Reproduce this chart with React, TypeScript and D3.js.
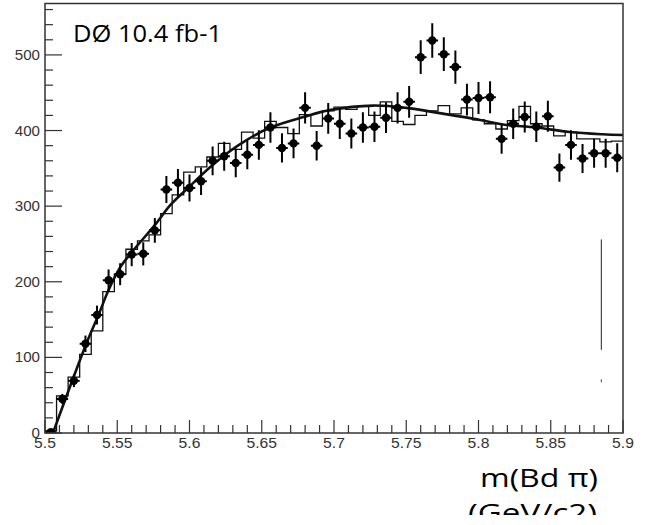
import React from "react";
import * as d3 from "d3";

// bins: 50 bins of 0.008 GeV from 5.5 to 5.9
const binLow = 5.5;
const binWidth = 0.008;
const dataCounts = [1, 45, 69, 118, 156, 202, 210, 236, 237, 268, 322, 331, 324, 333, 360, 366, 357, 368, 381, 404, 377, 383, 430, 380, 416, 409, 396, 404, 405, 417, 430, 438, 497, 519, 501, 484, 441, 443, 444, 389, 409, 418, 405, 419, 351, 381, 363, 370, 370, 364];
const mcCounts = [3, 49, 74, 104, 135, 187, 210, 243, 254, 262, 290, 315, 345, 352, 365, 383, 375, 398, 390, 412, 404, 396, 421, 406, 426, 431, 428, 432, 420, 438, 412, 408, 420, 426, 433, 422, 430, 414, 409, 402, 413, 432, 409, 406, 393, 398, 389, 389, 385, 386];

// fit curve
const fitMass = [5.5055, 5.519, 5.529, 5.537, 5.544, 5.552, 5.56, 5.576, 5.587, 5.6, 5.614, 5.626, 5.64, 5.656, 5.679, 5.697, 5.727, 5.75, 5.773, 5.801, 5.817, 5.84, 5.863, 5.886, 5.9];
const fitCounts = [0, 70, 120, 156, 189, 219, 239, 275, 302, 326, 351, 370, 388, 404, 418, 427, 433, 430, 423, 414, 408, 404, 398, 395, 394];

const xTicks = [5.5, 5.55, 5.6, 5.65, 5.7, 5.75, 5.8, 5.85, 5.9];
const yTicks = [0, 100, 200, 300, 400, 500];

// stray mark in the original scan
const strayMass = 5.885;
const strayRange = [110, 256];
const strayDot = [67, 71];

const W = 651;
const H = 525;
const left = 45, right = 623, top = 3.5, bottom = 433;

const App = () => {
  const x = d3.scaleLinear().domain([5.5, 5.9]).range([left, right]);
  const y = d3.scaleLinear().domain([0, 568]).range([bottom, top]);

  const points = dataCounts.map((v, i) => ({ m: binLow + binWidth * (i + 0.5), v }));

  const steps: [number, number][] = [[binLow, 0]];
  mcCounts.forEach((v, i) => {
    steps.push([binLow + binWidth * i, v]);
    steps.push([binLow + binWidth * (i + 1), v]);
  });
  const histPath = d3.line<[number, number]>()
    .x(d => x(d[0]))
    .y(d => y(d[1]))(steps);

  const fitPath = d3.line<number>()
    .x(d => x(d))
    .y((d, i) => y(fitCounts[i]))
    .curve(d3.curveCatmullRom)(fitMass);

  const minorX = d3.range(0, 41).map(i => 5.5 + i * 0.01);
  const minorY = d3.range(0, 29).map(i => i * 20);
  const half = (x(binLow + binWidth) - x(binLow)) / 2;
  const tickFont = "'Liberation Sans', Arial, sans-serif";
  const labelFont = "'Open Sans', 'Noto Sans', sans-serif";

  return (
    <svg width={W} height={H} style={{ position: "absolute", left: 0, top: 0, background: "#fff" }}>
      <defs>
        <clipPath id="plot">
          <rect x={left} y={top} width={right - left} height={bottom - top} />
        </clipPath>
        <clipPath id="bottomcut">
          <rect x={0} y={0} width={W} height={515} />
        </clipPath>
      </defs>

      <g clipPath="url(#plot)">
        <path d={histPath || ""} fill="none" stroke="#111" strokeWidth={1.3} />
        <path d={fitPath || ""} fill="none" stroke="#111" strokeWidth={2.6} />
        {points.map((p, i) => {
          const e = Math.sqrt(p.v);
          return (
            <g key={i}>
              <line x1={x(p.m)} x2={x(p.m)} y1={y(p.v + e)} y2={y(Math.max(0, p.v - e))} stroke="#000" strokeWidth={2} />
              <line x1={x(p.m) - half} x2={x(p.m) + half} y1={y(p.v)} y2={y(p.v)} stroke="#000" strokeWidth={2} />
              <circle cx={x(p.m)} cy={y(p.v)} r={4.2} fill="#000" />
            </g>
          );
        })}
      </g>

      {/* stray mark */}
      <line x1={x(strayMass)} x2={x(strayMass)} y1={y(strayRange[0])} y2={y(strayRange[1])} stroke="#222" strokeWidth={1} />
      <line x1={x(strayMass)} x2={x(strayMass)} y1={y(strayDot[0])} y2={y(strayDot[1])} stroke="#444" strokeWidth={1} />

      {/* frame */}
      <rect x={left} y={top} width={right - left} height={bottom - top} fill="none" stroke="#333" strokeWidth={1.5} />

      {/* y ticks */}
      {minorY.map(v => (
        <line key={"my" + v} x1={left} x2={left + (v % 100 === 0 ? 17 : 8)} y1={y(v)} y2={y(v)} stroke="#333" strokeWidth={1.2} />
      ))}
      {yTicks.map(v => (
        <g key={"ly" + v} transform={`translate(${left - 5},${y(v) + 5}) scale(1.08,1)`}>
          <text textAnchor="end" fontFamily={tickFont} fontSize={14} fill="#333">{v}</text>
        </g>
      ))}

      {/* x ticks */}
      {minorX.map((v, i) => (
        <line key={"mx" + i} x1={x(v)} x2={x(v)} y1={bottom} y2={bottom - (i % 5 === 0 ? 13 : 8)} stroke="#333" strokeWidth={1.2} />
      ))}
      {xTicks.map(v => (
        <g key={"lx" + v} transform={`translate(${x(v)},${bottom + 15}) scale(1.12,1)`}>
          <text textAnchor="middle" fontFamily={tickFont} fontSize={14} fill="#333">{String(v)}</text>
        </g>
      ))}

      <text x={73} y={42} fontFamily={labelFont} fontSize={23} fill="#000" textLength={149} lengthAdjust="spacingAndGlyphs">DØ 10.4 fb-1</text>
      <text x={480} y={487} fontFamily={labelFont} fontSize={26} fill="#000" textLength={118} lengthAdjust="spacingAndGlyphs">m(Bd π)</text>
      <g clipPath="url(#bottomcut)">
        <text x={468} y={522} fontFamily={labelFont} fontSize={26} fill="#000" textLength={129} lengthAdjust="spacingAndGlyphs">(GeV/c2)</text>
      </g>
    </svg>
  );
};

export default App;
